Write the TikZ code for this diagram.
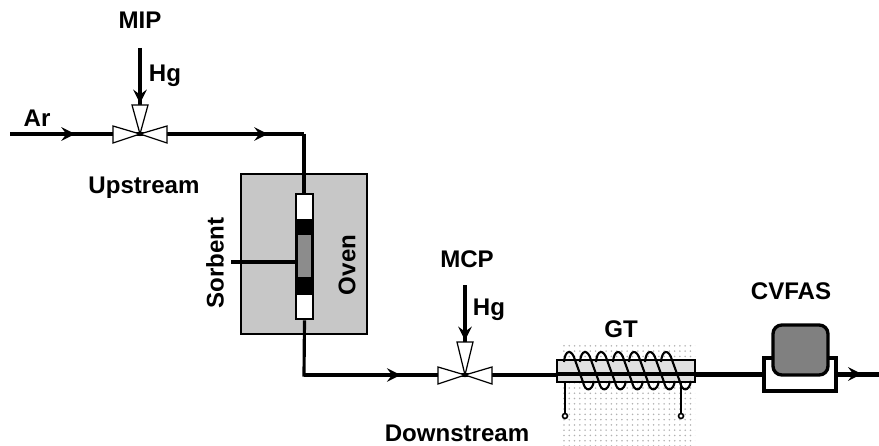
\documentclass[tikz,border=0pt]{standalone}
\usepackage{fontspec}
\setmainfont{Liberation Sans}
\usetikzlibrary{positioning, calc, arrows, patterns, decorations.markings}
\tikzset{lbl/.style={font=\fontsize{13.7}{16}\selectfont\bfseries, inner sep=0pt}}
\tikzset{pipe/.style={line width=1.8pt, line join=miter}}
\tikzset{flow/.style={postaction={decorate}, decoration={markings, mark=at position #1 with {\arrow[scale=1.2]{stealth}}}}}
\tikzset{vtri/.style={draw, fill=white, line width=.7pt, line join=miter}}
\tikzset{box/.style={draw, line width=1.5pt, minimum width=0pt, minimum height=0pt, inner sep=0pt}}

\begin{document}
\begin{tikzpicture}[x=0.02cm, y=-0.02cm]
      \useasboundingbox (0,0) rectangle (879,446);

      % stippled ground under the trap
      \fill[pattern=dots, pattern color=black!30] (560,342) rectangle (695,446);

      \coordinate (in) at (10,134);
      \coordinate (v0) at (140,134);
      \coordinate (bend0) at (304,134);
      \coordinate (v1) at (465,375);
      \coordinate (bend1) at (304,375);
      \coordinate (out) at (879,374);
      \coordinate (mipin) at (140,48);
      \coordinate (mcpin) at (465,285);
      \coordinate (v0top) at (140,105);
      \coordinate (v1top) at (465,342);
      \coordinate (sorbin) at (231,262);

      % oven
      \node[box, fill=black!22, minimum width=2.52cm, minimum height=3.2cm] (oven) at (304,254) {};

      \draw[pipe, flow=.5] (in) -- (v0);
      \draw[pipe, flow=.78] (v0) -- (bend0);
      \draw[pipe] (bend0) -- (oven.north -| bend0) -- ++(0,20);
      \draw[pipe, flow=.6] (bend1) -- (v1);
      \draw[pipe] (v1) -- (out |- v1);
      \draw[pipe, flow=.6] (836,374) -- (out);
      \draw[pipe, flow=.97] (mipin) -- (v0top);
      \draw[pipe, flow=.97] (mcpin) -- (v1top);

      % column
      \node[box, fill=white, minimum width=.34cm, minimum height=2.5cm] (col) at (304.5,256.5) {};
      \fill[black] (col.north west) ++(0,26) rectangle ($(col.north east)+(0,102)$);
      \fill[black!45] ($(col.north west)+(3,42)$) rectangle ($(col.north east)+(-3,84)$);
      \draw[pipe] (col.south) -- (bend1) -- (v1);
      \draw[pipe] (sorbin) -- (col.west |- sorbin);

      % valves
      \foreach \vlv/\top in {v0/v0top, v1/v1top} {
        \draw[vtri] (\vlv) -- ++(-27,-8) -- ++(0,17) -- cycle;
        \draw[vtri] (\vlv) -- ++(27,-8) -- ++(0,17) -- cycle;
        \draw[vtri] (\vlv) -- ($(\top)+(-8,0)$) -- ($(\top)+(8,0)$) -- cycle;
      }

      % trap and coil
      \node[draw, line width=1.5pt, fill=black!12, minimum width=2.76cm, minimum height=.44cm, inner sep=0pt] (gt) at (626,371) {};
      \draw[pipe] (gt.west |- out) -- (gt.east |- out);
      \draw[pipe] (gt.east |- out) -- (765,374);
      \draw[line width=1.2pt] (565,416) -- (565,382);
      \foreach \x in {568,584,600,617,633,649,665} {
        \draw[line width=1.2pt] ({\x-4},362) .. controls ({\x-3},349) and ({\x+4},349) .. ({\x+7},360)
          -- ({\x+15},382) .. controls ({\x+17},392) and ({\x+24},392) .. ({\x+26},381);
      }
      \draw[line width=1.2pt] (681,382) -- (681,416);
      \node[draw, circle, fill=white, line width=.9pt, inner sep=0pt, minimum size=.1cm] (lead0) at (565,416) {};
      \node[draw, circle, fill=white, line width=.9pt, inner sep=0pt, minimum size=.1cm] (lead1) at (681,416) {};

      % detector
      \node[box, line width=1.9pt, fill=white, minimum width=1.44cm, minimum height=.66cm] (cradle) at (800,374.5) {};
      \node[box, line width=1.9pt, fill=black!50, rounded corners=5pt, minimum width=1.1cm, minimum height=1cm] (cell) at (800.5,350) {};

      % labels
      \node[lbl] (mip) at (140,20) {MIP};
      \node[lbl] (hg0) at (165,76) {Hg};
      \node[lbl] (ar) at (37,118) {Ar};
      \node[lbl] (up) at (144,188) {Upstream};
      \node[lbl, rotate=90] (sorb) at (215,263) {Sorbent};
      \node[lbl, rotate=90] (ovn) at (347,265) {Oven};
      \node[lbl] (mcp) at (467,259) {MCP};
      \node[lbl] (hg1) at (489,310) {Hg};
      \node[lbl] (down) at (457,433) {Downstream};
      \node[lbl] (gtl) at (621,329) {GT};
      \node[lbl] (cvf) at (791,291) {CVFAS};
    \end{tikzpicture}
\end{document}
